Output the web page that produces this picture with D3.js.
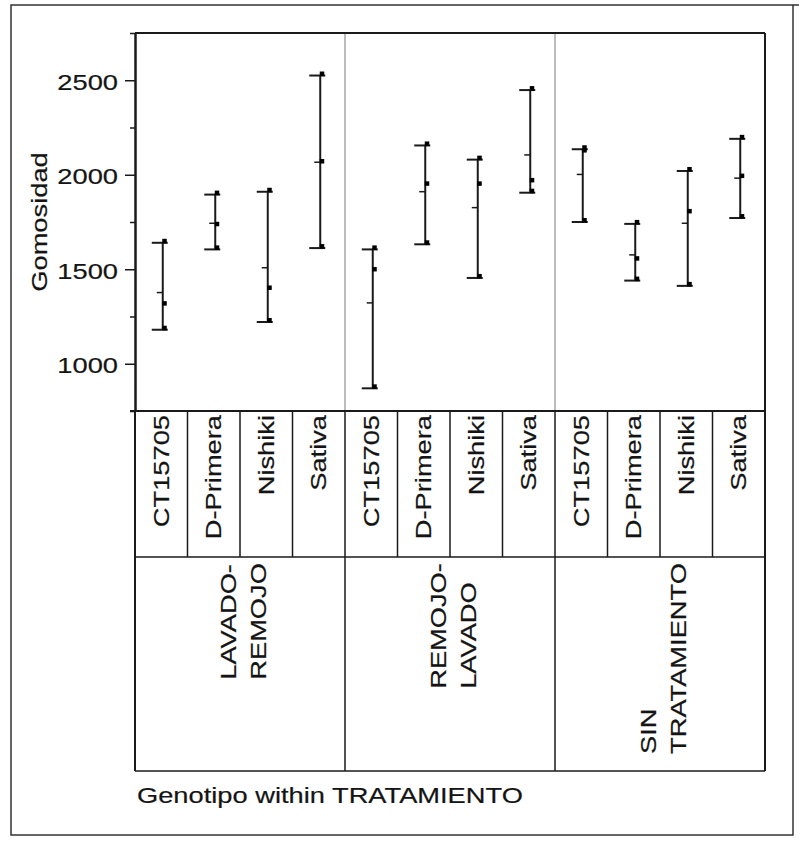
<!DOCTYPE html>
<html>
<head>
<meta charset="utf-8">
<script src="https://cdn.jsdelivr.net/npm/d3@7"></script>
<style>
  body { margin: 0; background: #fff; }
  text { font-family: "Liberation Sans", Arial, sans-serif; fill: #141414; stroke: #141414; stroke-width: 0.2px; }
</style>
</head>
<body>
<svg id="chart" width="799" height="852"></svg>
<script>
// Variability chart of Gomosidad by genotype within treatment
const treatments = ["LAVADO-REMOJO", "REMOJO-LAVADO", "SIN TRATAMIENTO"];
const treatmentLines = [["LAVADO-", "REMOJO"], ["REMOJO-", "LAVADO"], ["SIN", "TRATAMIENTO"]];
const genotypes = ["CT15705", "D-Primera", "Nishiki", "Sativa"];

// Observations per genotype (same order as genotypes), one array per treatment
const lavadoRemojo   = [[1640, 1310, 1180], [1895, 1730, 1605], [1910, 1393, 1221], [2525, 2062, 1612]];
const remojoLavado   = [[1605, 1491, 870],  [2155, 1944, 1632], [2080, 1944, 1454], [2448, 1962, 1905]];
const sinTratamiento = [[2135, 2120, 1750], [1740, 1548, 1440], [2020, 1798, 1412], [2190, 1985, 1771]];

const yMajorTicks = [1000, 1500, 2000, 2500];
const yMinorTicks = [750, 1250, 1750, 2250, 2750];
const yDomain = [750, 2750];

const groups = [lavadoRemojo, remojoLavado, sinTratamiento];

const svg = d3.select("#chart");
const L = 135, R = 765, T = 33, B = 411, genoBottom = 557, treatBottom = 771;
const FS = 22, SX = 1.24;
const dark = "#1a1a1a";

// outer frame
svg.append("rect").attr("x", 11).attr("y", 5).attr("width", 782).attr("height", 830)
  .attr("fill", "none").attr("stroke", "#333").attr("stroke-width", 1.5);
svg.append("line").attr("x1", 793).attr("x2", 799).attr("y1", 5).attr("y2", 5)
  .attr("stroke", "#333").attr("stroke-width", 1.5);

const y = d3.scaleLinear().domain(yDomain).range([B, T]);
const xT = d3.scaleBand().domain(treatments).range([L, R]);
const xG = d3.scaleBand().domain(genotypes).range([0, xT.bandwidth()]);

// group separators inside the plot
svg.append("g").selectAll("line").data(treatments.slice(1)).join("line")
  .attr("x1", d => xT(d)).attr("x2", d => xT(d)).attr("y1", T).attr("y2", B)
  .attr("stroke", "#a6a6a6").attr("stroke-width", 1.5);

// plot frame (top, right)
svg.append("line").attr("x1", L).attr("x2", R).attr("y1", T).attr("y2", T).attr("stroke", dark).attr("stroke-width", 2);
svg.append("line").attr("x1", R).attr("x2", R).attr("y1", T).attr("y2", treatBottom).attr("stroke", dark).attr("stroke-width", 2);

// y axis
const gMinor = svg.append("g").attr("transform", `translate(${L},0)`)
  .call(d3.axisLeft(y).tickValues(yMinorTicks).tickSize(5).tickSizeOuter(0).tickFormat(""));
const gMajor = svg.append("g").attr("transform", `translate(${L},0)`)
  .call(d3.axisLeft(y).tickValues(yMajorTicks).tickSize(10).tickSizeOuter(0).tickPadding(7).tickFormat(d3.format("d")));
[gMinor, gMajor].forEach(g => {
  g.selectAll("path.domain").attr("stroke", dark).attr("stroke-width", 2);
  g.selectAll(".tick line").attr("stroke", dark).attr("stroke-width", 1.5);
});
gMajor.selectAll(".tick text")
  .attr("x", 0).attr("dy", "0.4em")
  .attr("transform", `translate(-17,0) scale(${SX},1)`)
  .style("font-size", FS + "px").attr("fill", "#141414");

// y title
svg.append("text").attr("transform", `translate(47,${(T + B) / 2}) rotate(-90) scale(${SX},1)`)
  .attr("text-anchor", "middle").style("font-size", FS + "px").text("Gomosidad");

// range bars
const cells = [];
groups.forEach((arr, ti) => arr.forEach((vals, gi) => {
  cells.push({ t: treatments[ti], g: genotypes[gi], vals,
    min: d3.min(vals), max: d3.max(vals), mean: d3.mean(vals) });
}));
const cx = d => xT(d.t) + xG(d.g) + xG.bandwidth() / 2 + 1.5;

const bars = svg.append("g").selectAll("g").data(cells).join("g");
bars.append("line").attr("x1", cx).attr("x2", cx)
  .attr("y1", d => y(d.max)).attr("y2", d => y(d.min))
  .attr("stroke", dark).attr("stroke-width", 2);
["max", "min"].forEach(k => {
  bars.append("line").attr("x1", d => cx(d) - 11).attr("x2", d => cx(d) + 5)
    .attr("y1", d => y(d[k])).attr("y2", d => y(d[k]))
    .attr("stroke", dark).attr("stroke-width", 2);
});
bars.append("line").attr("x1", d => cx(d) - 6).attr("x2", d => cx(d))
  .attr("y1", d => y(d.mean)).attr("y2", d => y(d.mean))
  .attr("stroke", dark).attr("stroke-width", 1.5);
bars.selectAll("rect").data(d => d.vals.map(v => ({ v, x: cx(d) }))).join("rect")
  .attr("x", p => p.x - 0.5).attr("y", p => y(p.v) - 4)
  .attr("width", 4.5).attr("height", 4.5).attr("fill", "#000");

// label grid
const grid = svg.append("g").attr("stroke", dark).attr("stroke-width", 1.5);
grid.append("line").attr("x1", L - 5).attr("x2", R).attr("y1", B).attr("y2", B).attr("stroke-width", 2);
grid.append("line").attr("x1", L).attr("x2", R).attr("y1", genoBottom).attr("y2", genoBottom);
grid.append("line").attr("x1", L).attr("x2", R).attr("y1", treatBottom).attr("y2", treatBottom);
grid.append("line").attr("x1", L).attr("x2", L).attr("y1", B).attr("y2", treatBottom).attr("stroke-width", 2);
treatments.forEach((t, ti) => {
  genotypes.slice(1).forEach(g => {
    const x = xT(t) + xG(g);
    grid.append("line").attr("x1", x).attr("x2", x).attr("y1", B).attr("y2", genoBottom);
  });
  if (ti > 0) grid.append("line").attr("x1", xT(t)).attr("x2", xT(t)).attr("y1", B).attr("y2", treatBottom);
});

// genotype labels
svg.append("g").selectAll("text").data(cells).join("text")
  .attr("transform", d => `translate(${xT(d.t) + xG(d.g) + xG.bandwidth() / 2},415) rotate(-90) scale(${SX},1)`)
  .attr("text-anchor", "end").attr("dominant-baseline", "central")
  .style("font-size", FS + "px").text(d => d.g);

// treatment labels (wrapped, lines start-aligned, longest line reaching the top)
const lineGap = 30;
treatments.forEach((t, ti) => {
  const lines = treatmentLines[ti];
  const g = svg.append("g");
  const texts = lines.map(s => g.append("text").style("font-size", FS + "px").text(s));
  const maxLen = d3.max(texts, tx => tx.node().getComputedTextLength()) * SX;
  const cxT = xT(t) + xT.bandwidth() / 2 + 3;
  texts.forEach((tx, i) => {
    const lx = cxT + (i - (lines.length - 1) / 2) * lineGap;
    tx.attr("text-anchor", "start").attr("dominant-baseline", "central")
      .attr("transform", `translate(${lx},${563 + maxLen}) rotate(-90) scale(${SX},1)`);
  });
});

// x title
svg.append("text").attr("transform", `translate(137,803) scale(${SX},1)`)
  .style("font-size", FS + "px").text("Genotipo within TRATAMIENTO");
</script>
</body>
</html>
